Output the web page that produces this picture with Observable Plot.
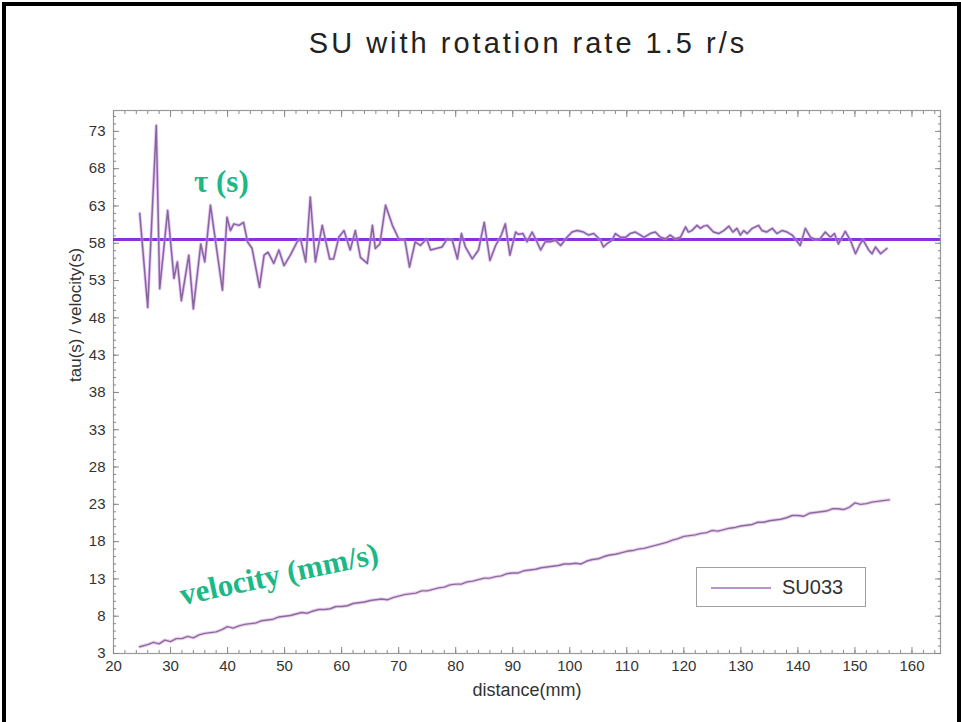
<!DOCTYPE html>
<html>
<head>
<meta charset="utf-8">
<script src="https://cdn.jsdelivr.net/npm/d3@7"></script>
<script src="https://cdn.jsdelivr.net/npm/@observablehq/plot@0.6"></script>
<style>
  body { margin: 0; background: #fff; }
  #wrap { position: relative; width: 961px; height: 722px; overflow: hidden; background: #fff; font-family: "Liberation Sans", Arial, sans-serif; }
  #border { position: absolute; left: 2px; top: 2px; width: 951px; height: 740px; border: 4px solid #000; }
  #title { position: absolute; top: 27px; left: 0; width: 1056px; text-align: center; font-size: 29px; letter-spacing: 3px; color: #222; }
  #chart { position: absolute; top: 80px; left: 0; }
  .ann { position: absolute; font-family: "Liberation Serif", "Times New Roman", serif; font-weight: bold; color: #1cb887; white-space: nowrap; }
  #legend { position: absolute; left: 696px; top: 567px; width: 168px; height: 38px; border: 1px solid #a0a0a0; background: #fff; }
  #legend .ln { position: absolute; left: 14px; top: 19px; width: 60px; height: 0; border-top: 2px solid #b894cf; }
  #legend .tx { position: absolute; left: 85px; top: 8px; font-size: 20px; color: #333; }
</style>
</head>
<body>
<div id="wrap">
  <div id="border"></div>
  <div id="title">SU with rotation rate 1.5 r/s</div>
  <div id="chart"></div>
  <div class="ann" id="tau" style="left:194px; top:164px; font-size:31px;">τ (s)</div>
  <div class="ann" id="vel" style="left:184px; top:577px; font-size:31px; transform: rotate(-12deg); transform-origin: 0 100%;">velocity (mm/s)</div>
  <div id="legend"><div class="ln"></div><div class="tx">SU033</div></div>
</div>
<script>
// ---- data ----
const seriesName = "SU033";
const tauMean = 58.5;
const xLabel = "distance(mm)";
const yLabel = "tau(s) / velocity(s)";

const tauX = [24.6,26.0,27.5,28.1,29.5,30.6,31.2,31.9,33.2,34.0,35.3,36.0,37.0,39.1,39.9,40.5,41.1,42.0,42.8,43.5,44.3,45.6,46.4,47.1,48.1,49.0,49.9,51.0,52.2,52.8,53.7,54.5,55.4,56.6,57.9,58.6,59.5,60.4,61.5,62.4,63.3,64.5,65.4,65.9,66.7,67.7,68.9,70.0,71.1,71.9,72.9,73.8,74.9,75.6,76.6,77.6,78.5,79.4,80.3,81.0,81.7,82.9,84.0,85.0,86.0,87.0,88.0,88.7,89.5,90.5,91.0,91.8,92.5,93.4,94.0,94.9,95.7,96.6,97.5,98.4,99.5,100.4,101.3,102.4,103.3,104.2,105.4,105.9,106.6,107.4,108.0,108.9,109.8,110.6,111.5,112.4,113.0,114.1,115.0,115.9,116.8,117.6,118.5,119.4,120.3,120.8,121.4,122.3,122.9,123.5,124.1,125.2,126.1,127.0,127.9,128.6,129.3,129.9,130.5,131.1,132.0,133.1,133.7,134.5,135.5,136.3,137.2,138.1,139.0,139.7,140.4,141.3,142.2,143.1,143.9,144.8,145.7,146.4,147.1,148.3,149.2,150.1,150.9,151.4,152.4,153.0,153.6,154.5,155.6];
const tauY = [62.0,49.4,73.8,51.9,62.4,53.3,55.5,50.3,56.4,49.2,57.9,55.5,63.1,51.7,61.5,59.7,60.6,60.4,60.8,58.2,57.3,52.1,56.4,56.8,55.3,57.1,55.0,56.4,58.2,58.6,55.5,64.2,55.5,60.4,55.9,55.9,58.8,59.7,57.1,59.7,56.1,55.3,60.4,57.3,57.9,63.1,60.4,58.6,58.4,54.8,58.2,57.7,58.6,57.1,57.3,57.5,58.6,58.4,55.9,59.3,57.5,55.9,57.1,60.8,55.7,57.7,59.1,60.6,56.4,59.5,59.2,59.3,58.2,59.5,58.6,57.1,58.2,58.2,58.4,57.7,58.8,59.5,59.7,59.5,59.1,59.3,58.4,57.5,58.0,58.4,59.3,58.8,58.8,59.3,59.5,59.1,58.8,59.3,59.5,58.8,58.6,59.1,58.6,58.8,60.2,59.5,59.7,60.4,60.0,60.3,60.4,59.5,59.3,59.7,60.3,59.5,60.0,59.1,59.7,59.3,60.0,60.4,59.7,59.5,60.0,59.3,59.7,59.5,59.1,58.4,57.7,60.0,58.8,58.5,58.6,59.5,58.8,59.3,57.9,59.6,58.4,56.6,57.9,58.5,57.1,56.6,57.5,56.6,57.3];

const velX = [24.6,26,27,28,29,30,31,32,33,34,35,36,37,38,39,40,41,42,43,44,45,46,47,48,49,50,51,52,53,54,55,56,57,58,59,60,61,62,63,64,65,66,67,68,69,70,71,72,73,74,75,76,77,78,79,80,81,82,83,84,85,86,87,88,89,90,91,92,93,94,95,96,97,98,99,100,101,102,103,104,105,106,107,108,109,110,111,112,113,114,115,116,117,118,119,120,121,122,123,124,125,126,127,128,129,130,131,132,133,134,135,136,137,138,139,140,141,142,143,144,145,146,147,148,149,150,151,152,153,154,155,156];
const velY = [3.9,4.2,4.5,4.3,4.8,4.6,5.0,5.0,5.3,5.1,5.5,5.7,5.8,5.9,6.2,6.6,6.4,6.7,6.9,7.0,7.1,7.4,7.5,7.6,7.9,8.0,8.1,8.3,8.5,8.4,8.7,8.9,8.9,9.0,9.3,9.3,9.4,9.7,9.8,9.9,10.1,10.2,10.3,10.2,10.5,10.7,10.9,11.0,11.1,11.4,11.4,11.6,11.8,11.9,12.2,12.3,12.3,12.6,12.7,12.9,13.1,13.1,13.3,13.4,13.7,13.8,13.8,14.1,14.2,14.3,14.5,14.6,14.7,14.8,15.0,15.0,15.1,15.0,15.4,15.6,15.7,16.0,16.2,16.3,16.5,16.7,16.8,17.0,17.1,17.3,17.5,17.7,17.9,18.2,18.4,18.7,18.8,18.9,19.1,19.2,19.5,19.4,19.6,19.8,19.9,20.1,20.2,20.3,20.6,20.6,20.8,20.9,21.0,21.2,21.5,21.5,21.4,21.8,21.9,22.0,22.1,22.4,22.4,22.3,22.6,23.2,23.0,23.1,23.3,23.4,23.5,23.6];

const xTicks = [20,30,40,50,60,70,80,90,100,110,120,130,140,150,160];
const yTicks = [3,8,13,18,23,28,33,38,43,48,53,58,63,68,73];

const tau = tauX.map((x, i) => ({x, y: tauY[i]}));
const vel = velX.map((x, i) => ({x, y: velY[i]}));

const xMinor = d3.range(20, 165.1, 2);
const yMinor = d3.range(3, 75.9, 1);
const tickColor = "#8a8a8a";
const blank = () => "";

const plot = Plot.plot({
  width: 961,
  height: 642,
  marginTop: 30,
  marginLeft: 113,
  marginRight: 21,
  marginBottom: 69,
  style: { fontFamily: "'Liberation Sans', Arial, sans-serif", fontSize: "15px", color: "#333", background: "transparent" },
  x: { domain: [20, 165] },
  y: { domain: [3, 75.8] },
  marks: [
    Plot.frame({ stroke: "#9a9a9a", strokeWidth: 1.2 }),
    Plot.axisX(xMinor, { anchor: "bottom", tickSize: -3, tickFormat: blank, label: null, stroke: tickColor }),
    Plot.axisX(xMinor, { anchor: "top", tickSize: -3, tickFormat: blank, label: null, stroke: tickColor }),
    Plot.axisY(yMinor, { anchor: "left", tickSize: -3, tickFormat: blank, label: null, stroke: tickColor }),
    Plot.axisY(yMinor, { anchor: "right", tickSize: -3, tickFormat: blank, label: null, stroke: tickColor }),
    Plot.axisX(xTicks, { anchor: "top", tickSize: -6, tickFormat: blank, label: null, stroke: tickColor }),
    Plot.axisY(yTicks, { anchor: "right", tickSize: -6, tickFormat: blank, label: null, stroke: tickColor }),
    Plot.axisX(xTicks, { anchor: "bottom", tickSize: -6, tickPadding: 13, label: null, stroke: tickColor, fill: "#333", fontSize: 15 }),
    Plot.axisY(yTicks, { anchor: "left", tickSize: -6, tickPadding: 14, label: null, stroke: tickColor, fill: "#333", fontSize: 15 }),
    Plot.text([xLabel], { frameAnchor: "bottom", dy: 42, fontSize: 18, fill: "#333" }),
    Plot.text([yLabel], { frameAnchor: "left", dx: -38, rotate: -90, fontSize: 17, fill: "#333" }),
    Plot.ruleY([tauMean], { stroke: "#8b2fe0", strokeWidth: 3 }),
    Plot.line(tau, { x: "x", y: "y", stroke: "#cf95ee", strokeWidth: 3.2, strokeOpacity: 0.55 }),
    Plot.line(tau, { x: "x", y: "y", stroke: "#86669c", strokeWidth: 1.5 }),
    Plot.line(vel, { x: "x", y: "y", stroke: "#ecd0f3", strokeWidth: 3.5 }),
    Plot.line(vel, { x: "x", y: "y", stroke: "#8a6c98", strokeWidth: 1.4 })
  ]
});
document.getElementById("chart").appendChild(plot);
</script>
</body>
</html>
